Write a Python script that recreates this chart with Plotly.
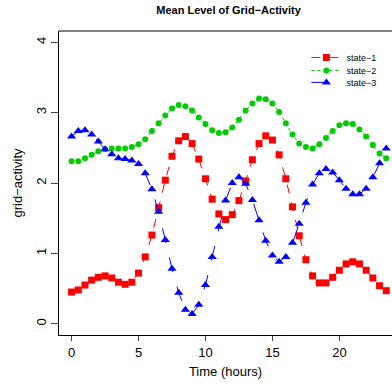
import plotly.graph_objects as go

hours = [i * 0.5 for i in range(48)]

state1 = [0.45, 0.48, 0.55, 0.62, 0.66, 0.68, 0.65, 0.59, 0.56, 0.59, 0.72, 0.95,
          1.26, 1.65, 2.04, 2.38, 2.60, 2.66, 2.56, 2.34, 2.06, 1.77, 1.56, 1.48,
          1.55, 1.75, 2.03, 2.33, 2.56, 2.67, 2.61, 2.40, 2.06, 1.66, 1.25, 0.91,
          0.68, 0.58, 0.58, 0.66, 0.76, 0.85, 0.88, 0.85, 0.76, 0.65, 0.54, 0.47]
state2 = [2.31, 2.31, 2.35, 2.40, 2.45, 2.48, 2.49, 2.49, 2.49, 2.51, 2.55, 2.62,
          2.74, 2.85, 2.96, 3.06, 3.11, 3.09, 3.03, 2.93, 2.84, 2.75, 2.71, 2.72,
          2.79, 2.90, 3.03, 3.13, 3.20, 3.19, 3.13, 3.01, 2.85, 2.69, 2.56, 2.51,
          2.49, 2.55, 2.64, 2.74, 2.82, 2.85, 2.84, 2.76, 2.66, 2.54, 2.42, 2.35]
state3 = [2.66, 2.74, 2.75, 2.69, 2.59, 2.48, 2.41, 2.35, 2.34, 2.32, 2.27, 2.14,
          1.91, 1.59, 1.19, 0.78, 0.44, 0.20, 0.14, 0.27, 0.55, 0.95, 1.38, 1.75,
          2.00, 2.08, 1.99, 1.76, 1.47, 1.18, 0.97, 0.88, 0.95, 1.15, 1.42, 1.72,
          1.98, 2.14, 2.20, 2.15, 2.04, 1.92, 1.84, 1.84, 1.92, 2.08, 2.28, 2.49]

x_ticks = [0, 5, 10, 15, 20]
y_ticks = [0, 1, 2, 3, 4]

FONT = "Liberation Sans, Arial, sans-serif"

fig = go.Figure()
fig.add_trace(go.Scatter(x=hours, y=state1, name="state\u22121", mode="lines+markers",
                         legend="legend",
                         line=dict(color="#FF0000", width=1, dash="dash"),
                         marker=dict(symbol="square", size=7, color="#FF0000")))
fig.add_trace(go.Scatter(x=hours, y=state2, name="state\u22122", mode="lines+markers",
                         legend="legend2",
                         line=dict(color="#00CD00", width=1, dash="dot"),
                         marker=dict(symbol="circle", size=6, color="#00CD00")))
fig.add_trace(go.Scatter(x=hours, y=state3, name="state\u22123", mode="lines+markers",
                         legend="legend3",
                         line=dict(color="#0000FF", width=1, dash="longdash"),
                         marker=dict(symbol="triangle-up", size=8, color="#0000FF")))

def leg(ypos):
    return dict(x=0.743, y=ypos, xanchor="left", yanchor="middle",
                font=dict(size=9, family=FONT), bgcolor="rgba(0,0,0,0)",
                itemwidth=30, tracegroupgap=0)

fig.update_layout(
    width=392, height=390,
    margin=dict(l=59, r=0, t=31, b=55, autoexpand=False),
    paper_bgcolor="white", plot_bgcolor="white",
    font=dict(family=FONT, color="black"),
    title=dict(text="<b>Mean Level of Grid\u2212Activity</b>", x=0.583, xanchor="center",
               y=0.974, yanchor="middle", font=dict(size=11, family=FONT)),
    showlegend=True,
    legend=leg(0.913), legend2=leg(0.870), legend3=leg(0.831),
    xaxis=dict(range=[-0.94, 23.93], tickvals=x_ticks, ticks="outside", ticklen=5,
               showline=True, linecolor="black", linewidth=1, showgrid=False,
               zeroline=False, tickfont=dict(size=13), automargin=False,
               title=dict(text="Time (hours)", font=dict(size=13), standoff=8)),
    yaxis=dict(range=[-0.16, 4.16], tickvals=y_ticks, ticks="outside", ticklen=7,
               showline=True, linecolor="black", linewidth=1, showgrid=False,
               zeroline=False, tickangle=-90, tickfont=dict(size=13), automargin=False,
               title=dict(text="grid\u2212activity", font=dict(size=13), standoff=8)),
)
fig.add_shape(type="line", xref="paper", yref="paper", x0=0, x1=1, y0=1, y1=1,
              line=dict(color="black", width=1))

fig.write_html("out.html", config={"displayModeBar": False},
               post_script="document.body.style.margin='0';document.body.style.overflow='hidden';")
